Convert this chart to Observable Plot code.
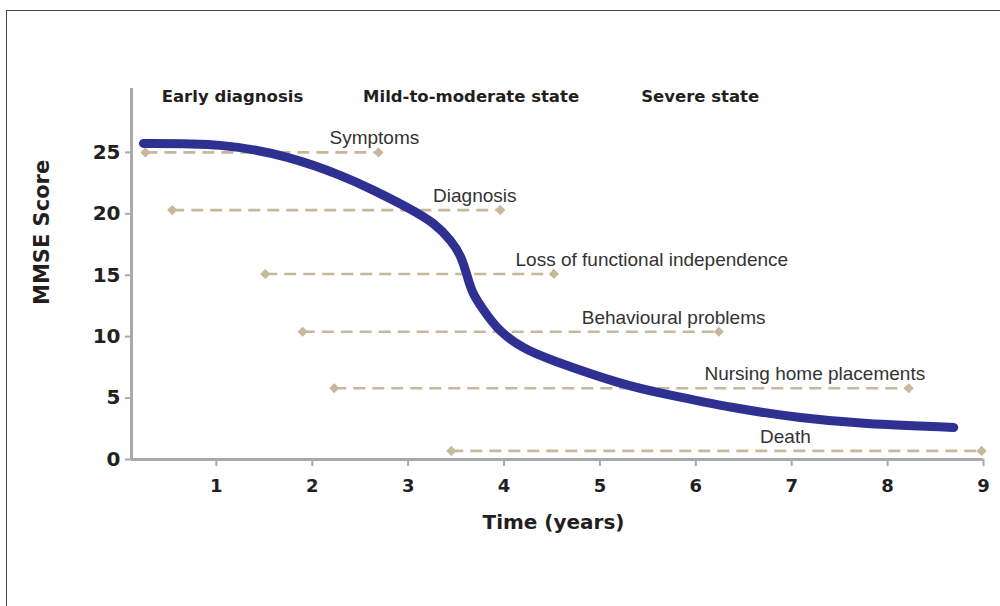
<!DOCTYPE html>
<html>
<head>
<meta charset="utf-8">
<script src="https://cdn.jsdelivr.net/npm/d3@7"></script>
<script src="https://cdn.jsdelivr.net/npm/@observablehq/plot@0.6"></script>
<style>
  body { margin: 0; background: #fff; }
  #wrap { position: relative; width: 1000px; height: 606px; overflow: hidden; }
  #frame { position: absolute; left: 6px; top: 10px; width: 1000px; height: 700px;
           border-top: 1px solid #444; border-left: 1px solid #444; box-sizing: border-box; }
  #chart { position: absolute; left: 0; top: 0; }
</style>
</head>
<body>
<div id="wrap"><div id="frame"></div><div id="chart"></div></div>
<script>
// MMSE decline curve
const timeYears = [0.24, 1.04, 1.74, 2.29, 2.64, 2.99, 3.26, 3.44, 3.55, 3.62, 3.68, 3.79, 3.96, 4.20, 4.54, 5.18, 5.70, 6.39, 7.09, 7.79, 8.69];
const mmseScore = [25.73, 25.57, 24.59, 23.13, 21.91, 20.52, 19.22, 17.83, 16.45, 14.82, 13.52, 12.13, 10.50, 9.12, 7.98, 6.30, 5.30, 4.23, 3.42, 2.93, 2.61];

// Events (dashed ranges)
const events = ["Symptoms", "Diagnosis", "Loss of functional independence", "Behavioural problems", "Nursing home placements", "Death"];
const eventStart = [0.26, 0.54, 1.51, 1.90, 2.23, 3.45];
const eventEnd = [2.69, 3.96, 4.52, 6.24, 8.22, 8.98];
const eventLevel = [25.0, 20.3, 15.1, 10.4, 5.8, 0.7];
const eventLabelX = [2.18, 3.26, 4.12, 4.81, 6.09, 6.67];

// Stage headers
const stages = ["Early diagnosis", "Mild-to-moderate state", "Severe state"];
const stageX = [0.43, 2.53, 5.43];
const stageLevel = 29.5;

// Ticks
const xTicks = [1, 2, 3, 4, 5, 6, 7, 8, 9];
const yTicks = [0, 5, 10, 15, 20, 25];

const xMin = 0.115, xMax = 9, yMax = 30.2;
const gray = "#a7a9ac", tan = "#c8b89b", navy = "#2e3192", ink = "#231f20";
const boldFont = "'DejaVu Sans', sans-serif";
const regFont = "'Liberation Sans', Arial, sans-serif";

const curveData = timeYears.map((t, i) => ({t, s: mmseScore[i]}));
const rangeData = events.map((e, i) => ({e, x1: eventStart[i], x2: eventEnd[i], y: eventLevel[i], lx: eventLabelX[i]}));
const endPoints = rangeData.flatMap(d => [{x: d.x1, y: d.y}, {x: d.x2, y: d.y}]);
const stageData = stages.map((s, i) => ({s, x: stageX[i]}));

const plot = Plot.plot({
  width: 1000, height: 606,
  marginLeft: 131, marginRight: 17, marginTop: 88, marginBottom: 147,
  x: {domain: [xMin, xMax]},
  y: {domain: [0, yMax]},
  style: {background: "transparent", fontFamily: boldFont},
  marks: [
    Plot.axisY(yTicks, {tickSize: 6, tickPadding: 5, stroke: gray, strokeWidth: 2, fill: ink,
      fontSize: 20, fontWeight: "bold", fontFamily: boldFont, label: null}),
    Plot.axisX(xTicks, {tickSize: 7, tickPadding: 13, stroke: gray, strokeWidth: 2, fill: ink,
      fontSize: 18, fontWeight: "bold", fontFamily: boldFont, label: null}),
    Plot.ruleX([xMin], {y1: 0, y2: yMax, stroke: gray, strokeWidth: 3}),
    Plot.ruleY([0], {x1: xMin, x2: xMax, stroke: gray, strokeWidth: 3}),
    Plot.link(rangeData, {x1: "x1", x2: "x2", y1: "y", y2: "y", stroke: tan, strokeWidth: 2.7, strokeDasharray: "12,7"}),
    Plot.dot(endPoints, {x: "x", y: "y", symbol: "diamond2", r: 4.6, fill: tan, stroke: "none"}),
    Plot.text(rangeData, {x: "lx", y: "y", text: "e", textAnchor: "start", dy: -14, fontSize: 19,
      fontFamily: regFont, fill: "#333"}),
    Plot.line(curveData, {x: "t", y: "s", curve: "natural", stroke: navy, strokeWidth: 9}),
    Plot.text(stageData, {x: "x", y: stageLevel, text: "s", textAnchor: "start", fontSize: 16.5,
      fontWeight: "bold", fontFamily: boldFont, fill: ink}),
    Plot.text(["MMSE Score"], {frameAnchor: "left", dx: -89, dy: 31, rotate: -90, fontSize: 21,
      fontWeight: "bold", fontFamily: boldFont, fill: ink}),
    Plot.text(["Time (years)"], {frameAnchor: "bottom", lineAnchor: "middle", dx: -4, dy: 63, fontSize: 20,
      fontWeight: "bold", fontFamily: boldFont, fill: ink})
  ]
});
document.getElementById("chart").appendChild(plot);
</script>
</body>
</html>
